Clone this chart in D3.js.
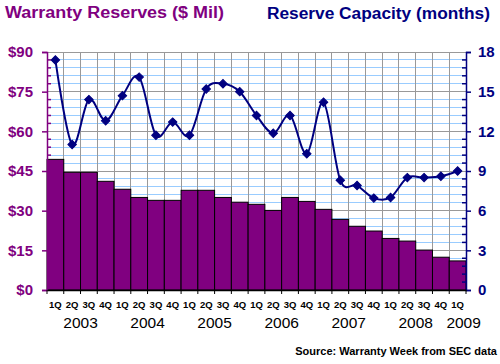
<!DOCTYPE html>
<html><head><meta charset="utf-8">
<script src="https://cdn.jsdelivr.net/npm/d3@7"></script>
<style>
body{margin:0;background:#fff;}
svg{display:block;font-family:"Liberation Sans",Arial,sans-serif;}
</style></head>
<body><svg id="c" width="500" height="364"></svg>
<script>
const quarters = ["1Q","2Q","3Q","4Q","1Q","2Q","3Q","4Q","1Q","2Q","3Q","4Q","1Q","2Q","3Q","4Q","1Q","2Q","3Q","4Q","1Q","2Q","3Q","4Q","1Q"];
const years = ["2003","2004","2005","2006","2007","2008","2009"];
const reserves = [49.4,44.5,44.5,41.1,38.1,35.0,33.9,33.9,37.7,37.7,35.0,33.2,32.4,30.1,35.0,33.5,30.5,26.7,24.1,22.3,19.5,18.5,15.1,12.4,11.0];
const capacity = [17.4,11.0,14.4,12.8,14.7,16.1,11.7,12.7,11.7,15.2,15.6,15.0,13.2,11.85,13.2,10.3,14.2,8.3,7.9,6.95,7.0,8.5,8.5,8.6,9.0];
const leftTicks = [0,15,30,45,60,75,90];
const rightTicks = [0,3,6,9,12,15,18];

const svg = d3.select("#c");
const L=47,R=466,T=52,B=290;
const PURPLE="#800080", NAVY="#000080";

const x = d3.scaleBand().domain(d3.range(quarters.length)).range([L,R]).padding(0);
const yL = d3.scaleLinear().domain([0,90]).range([B,T]);
const yR = d3.scaleLinear().domain([0,18]).range([B,T]);

// minor horizontal gridlines (light blue)
const minor = d3.range(0,90.01,3).filter(v=>v%15!==0);
svg.append("g").selectAll("line").data(minor).join("line")
  .attr("x1",L).attr("x2",R).attr("y1",d=>yL(d)).attr("y2",d=>yL(d))
  .attr("stroke","#99ccff").attr("stroke-width",1).attr("shape-rendering","crispEdges");
// major horizontal gridlines
svg.append("g").selectAll("line").data(leftTicks).join("line")
  .attr("x1",L).attr("x2",R).attr("y1",d=>yL(d)).attr("y2",d=>yL(d))
  .attr("stroke","#999").attr("stroke-width",1).attr("shape-rendering","crispEdges");
// vertical gridlines
svg.append("g").selectAll("line").data(d3.range(1,quarters.length)).join("line")
  .attr("x1",d=>x(d)).attr("x2",d=>x(d)).attr("y1",T).attr("y2",B)
  .attr("stroke","#999").attr("stroke-width",1).attr("shape-rendering","crispEdges");

// bars
svg.append("g").selectAll("rect").data(reserves).join("rect")
  .attr("x",(d,i)=>x(i)).attr("width",x.bandwidth())
  .attr("y",d=>yL(d)).attr("height",d=>B-yL(d))
  .attr("fill",PURPLE).attr("stroke","#000").attr("stroke-width",1);

// line
const line = d3.line().x((d,i)=>x(i)+x.bandwidth()/2).y(d=>yR(d)).curve(d3.curveCatmullRom.alpha(0));
svg.append("path").datum(capacity).attr("d",line).attr("fill","none").attr("stroke",NAVY).attr("stroke-width",2);
svg.append("g").selectAll("path").data(capacity).join("path")
  .attr("d",d3.symbol(d3.symbolSquare,36))
  .attr("transform",(d,i)=>`translate(${x(i)+x.bandwidth()/2},${yR(d)}) rotate(45)`)
  .attr("fill",NAVY).attr("stroke",NAVY).attr("stroke-width",1);

// left axis
const gl = svg.append("g").attr("transform",`translate(${L},0)`)
  .call(d3.axisLeft(yL).tickValues(leftTicks).tickSize(5).tickPadding(9).tickFormat(d=>"$"+d));
gl.select(".domain").attr("stroke",PURPLE).attr("stroke-width",1.5);
gl.selectAll(".tick line").attr("stroke",PURPLE).attr("stroke-width",1.5);
gl.selectAll("text").attr("fill",PURPLE).attr("font-size","15px").attr("font-weight","bold")
  .attr("font-family","'Liberation Sans',Arial,sans-serif");
svg.append("g").selectAll("line").data(minor).join("line")
  .attr("x1",L).attr("x2",L+4).attr("y1",d=>yL(d)).attr("y2",d=>yL(d))
  .attr("stroke",PURPLE).attr("stroke-width",1.5);

// right axis
const gr = svg.append("g").attr("transform",`translate(${R},0)`)
  .call(d3.axisRight(yR).tickValues(rightTicks).tickSize(5).tickPadding(7));
gr.select(".domain").attr("stroke",NAVY).attr("stroke-width",1.5);
gr.selectAll(".tick line").attr("stroke",NAVY).attr("stroke-width",1.5);
gr.selectAll("text").attr("fill",NAVY).attr("font-size","15px").attr("font-weight","bold")
  .attr("font-family","'Liberation Sans',Arial,sans-serif");
const minorR = d3.range(0,18.01,0.6).filter(v=>Math.abs(v/3-Math.round(v/3))>0.01);
svg.append("g").selectAll("line").data(minorR).join("line")
  .attr("x1",R-4).attr("x2",R).attr("y1",d=>yR(d)).attr("y2",d=>yR(d))
  .attr("stroke",NAVY).attr("stroke-width",1.5);

// bottom axis
const gb = svg.append("g").attr("transform",`translate(0,${B})`)
  .call(d3.axisBottom(x).tickSize(0).tickPadding(11).tickFormat(i=>quarters[i]));
gb.select(".domain").attr("stroke","#000").attr("stroke-width",1.5);
gb.selectAll("text").attr("fill","#000").attr("font-size","9.5px").attr("font-weight","bold")
  .attr("font-family","'Liberation Sans',Arial,sans-serif");
svg.append("g").selectAll("line").data(d3.range(0,quarters.length+1)).join("line")
  .attr("x1",d=>d<quarters.length?x(d):R).attr("x2",d=>d<quarters.length?x(d):R)
  .attr("y1",B).attr("y2",B+4).attr("stroke","#000").attr("stroke-width",1);

// year labels
svg.append("g").selectAll("text").data(years).join("text")
  .attr("x",(d,i)=>{ if(i===years.length-1) return x(24)+x.bandwidth()/2+6; return x(i*4)+2*x.bandwidth(); })
  .attr("y",328).attr("text-anchor","middle").attr("font-size","15.5px")
  .attr("fill","#000").text(d=>d);

// titles
svg.append("text").attr("x",5).attr("y",17.5).attr("font-size","16px").attr("font-weight","bold")
  .attr("fill",PURPLE).attr("textLength",219).attr("lengthAdjust","spacingAndGlyphs")
  .text("Warranty Reserves ($ Mil)");
svg.append("text").attr("x",490).attr("y",18.5).attr("text-anchor","end").attr("font-size","16px").attr("font-weight","bold")
  .attr("fill",NAVY).attr("textLength",223).attr("lengthAdjust","spacingAndGlyphs")
  .text("Reserve Capacity (months)");
svg.append("text").attr("x",497).attr("y",355).attr("text-anchor","end").attr("font-size","11px").attr("font-weight","bold")
  .attr("fill","#000")
  .text("Source: Warranty Week from SEC data");
</script></body></html>
